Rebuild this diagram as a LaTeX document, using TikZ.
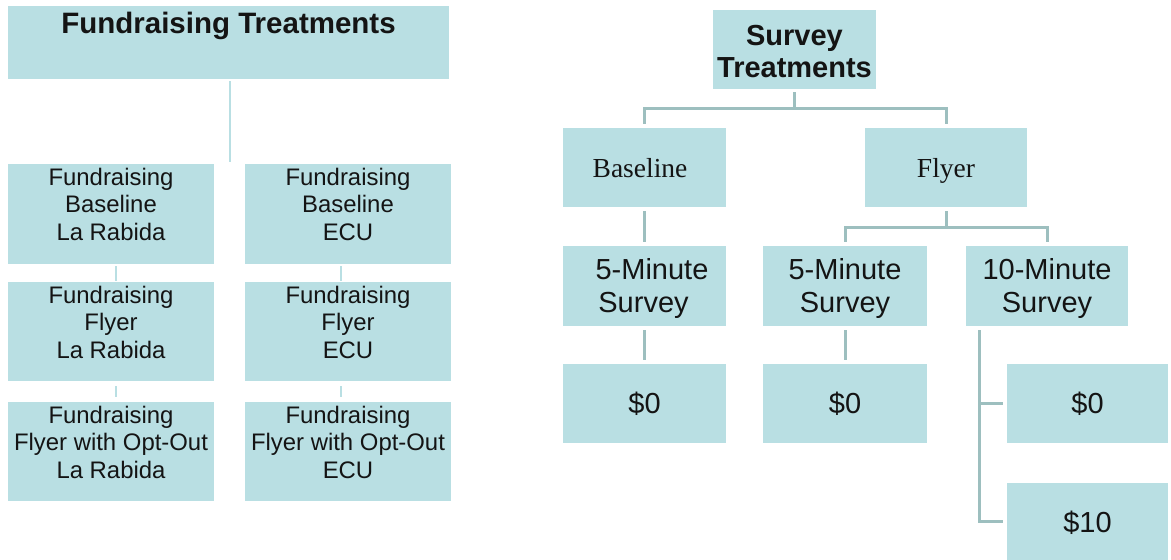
\documentclass[tikz,border=0pt]{standalone}
\usepackage{fontspec}
\setmainfont{Liberation Sans}
\newfontfamily\tnrfont{Liberation Serif}
\definecolor{boxfill}{HTML}{B9DFE3}
\definecolor{conncol}{HTML}{9DBFBF}
\definecolor{lconncol}{HTML}{B9DFE3}
\definecolor{txtcol}{HTML}{141414}
\begin{document}
\begin{tikzpicture}[x=1pt,y=-1pt,
  box/.style={rectangle, fill=boxfill, draw=none, inner sep=0pt},
  ltxt/.style={inner sep=0pt, align=center, text=txtcol, font=\fontsize{23.9}{27.5}\selectfont},
  ttl/.style={inner sep=0pt, align=center, text=txtcol, font=\fontsize{29.5}{32}\selectfont\bfseries},
  rtxt/.style={inner sep=0pt, align=center, text=txtcol, font=\fontsize{29}{33}\selectfont},
  stxt/.style={inner sep=0pt, align=center, text=txtcol, font=\fontsize{27.5}{30}\selectfont\tnrfont},
  conn/.style={draw=conncol, line width=3pt},
  lconn/.style={draw=lconncol, line width=2pt}]
\useasboundingbox[fill=white] (0,0) rectangle (1171,560);

% ---------- Left: Fundraising treatments ----------
\node[box, minimum width=441pt, minimum height=73pt] (ft) at (228.5,42.5) {};
\node[ttl, anchor=north] (ftt) at ([yshift=-6pt]ft.north) {Fundraising Treatments};

\node[box, minimum width=206pt, minimum height=100pt] (r1l) at (111,214) {};
\node[box, minimum width=206pt, minimum height=100pt] (r1r) at (348,214) {};
\node[box, minimum width=206pt, minimum height=99pt] (r2l) at (111,331.5) {};
\node[box, minimum width=206pt, minimum height=99pt] (r2r) at (348,331.5) {};
\node[box, minimum width=206pt, minimum height=99pt] (r3l) at (111,451.5) {};
\node[box, minimum width=206pt, minimum height=99pt] (r3r) at (348,451.5) {};

\node[ltxt, anchor=north] (r1lt) at ([yshift=-4pt]r1l.north) {Fundraising\\Baseline\\La Rabida};
\node[ltxt, anchor=north] (r1rt) at ([yshift=-4pt]r1r.north) {Fundraising\\Baseline\\ECU};
\node[ltxt, anchor=north] (r2lt) at ([yshift=-4pt]r2l.north) {Fundraising\\Flyer\\La Rabida};
\node[ltxt, anchor=north] (r2rt) at ([yshift=-4pt]r2r.north) {Fundraising\\Flyer\\ECU};
\node[ltxt, anchor=north] (r3lt) at ([yshift=-4pt]r3l.north) {Fundraising\\Flyer with Opt-Out\\La Rabida};
\node[ltxt, anchor=north] (r3rt) at ([yshift=-4pt]r3r.north) {Fundraising\\Flyer with Opt-Out\\ECU};

\coordinate (gap) at (229.5,0);
\draw[lconn] ([yshift=-2pt]ft.south -| gap) -- ([yshift=2pt]r1l.north -| gap);
\draw[lconn] ([xshift=5pt,yshift=-2pt]r1l.south) -- ([xshift=5pt,yshift=1pt]r2l.north);
\draw[lconn] ([xshift=-7pt,yshift=-2pt]r1r.south) -- ([xshift=-7pt,yshift=1pt]r2r.north);
\draw[lconn] ([xshift=5pt,yshift=-5pt]r2l.south) -- ([xshift=5pt,yshift=5pt]r3l.north);
\draw[lconn] ([xshift=-7pt,yshift=-5pt]r2r.south) -- ([xshift=-7pt,yshift=5pt]r3r.north);

% ---------- Right: Survey treatments ----------
\node[box, minimum width=163pt, minimum height=79pt] (st) at (794.5,49.5) {};
\node[ttl, anchor=north, font=\fontsize{29}{32}\selectfont\bfseries] (stt) at ([yshift=-15pt]st.north) {Survey\\Treatments};

\node[box, minimum width=163pt, minimum height=79pt] (bl) at (644.5,167.5) {};
\node[box, minimum width=162pt, minimum height=79pt] (fl) at (946,167.5) {};
\node[stxt, anchor=base] (blt) at (640,177) {Baseline};
\node[stxt, anchor=base] (flt) at (946,177) {Flyer};

\node[box, minimum width=163pt, minimum height=80pt] (m5l) at (644.5,286) {};
\node[box, minimum width=164pt, minimum height=80pt] (m5m) at (845,286) {};
\node[box, minimum width=162pt, minimum height=80pt] (m10) at (1047,286) {};
\node[rtxt, anchor=base] (m5lt) at (652,279) {5-Minute};
\node[rtxt, anchor=base] (m5ls) at (643.5,312) {Survey};
\node[rtxt, anchor=base] (m5mt) at (845,279) {5-Minute};
\node[rtxt, anchor=base] (m5ms) at (845,312) {Survey};
\node[rtxt, anchor=base] (m10t) at (1047,279) {10-Minute};
\node[rtxt, anchor=base] (m10s) at (1047,312) {Survey};

\node[box, minimum width=163pt, minimum height=79pt] (z0l) at (644.5,403.5) {};
\node[box, minimum width=164pt, minimum height=79pt] (z0m) at (845,403.5) {};
\node[box, minimum width=161pt, minimum height=79pt] (z0r) at (1087.5,403.5) {};
\node[box, minimum width=161pt, minimum height=77pt] (z10) at (1087.5,521.5) {};
\node[rtxt, anchor=base] (z0lt) at (644.5,413) {\$0};
\node[rtxt, anchor=base] (z0mt) at (845,413) {\$0};
\node[rtxt, anchor=base] (z0rt) at (1087.5,413) {\$0};
\node[rtxt, anchor=base] (z10t) at (1087.5,532) {\$10};

% connectors
\coordinate (j1) at (0,108);
\coordinate (j2) at (0,227);
\coordinate (vx) at (979,0);
\draw[conn] ([yshift=-3pt]st.south) -- (st.south |- j1) -| ([yshift=4pt]bl.north);
\draw[conn] (st.south |- j1) -| ([yshift=4pt]fl.north);
\draw[conn] ([yshift=-4pt]bl.south) -- ([yshift=4pt]m5l.north);
\draw[conn] ([yshift=-4pt]fl.south) -- (fl.south |- j2) -| ([yshift=4pt]m5m.north);
\draw[conn] (fl.south |- j2) -| ([yshift=4pt]m10.north);
\draw[conn] ([yshift=-4pt]m5l.south) -- ([yshift=4pt]z0l.north);
\draw[conn] ([yshift=-4pt]m5m.south) -- ([yshift=4pt]z0m.north);
\draw[conn] ([yshift=-4pt]m10.south -| vx) |- ([xshift=-4pt]z0r.west);
\draw[conn] ([yshift=-4pt]m10.south -| vx) |- ([xshift=-4pt]z10.west);
\end{tikzpicture}
\end{document}
